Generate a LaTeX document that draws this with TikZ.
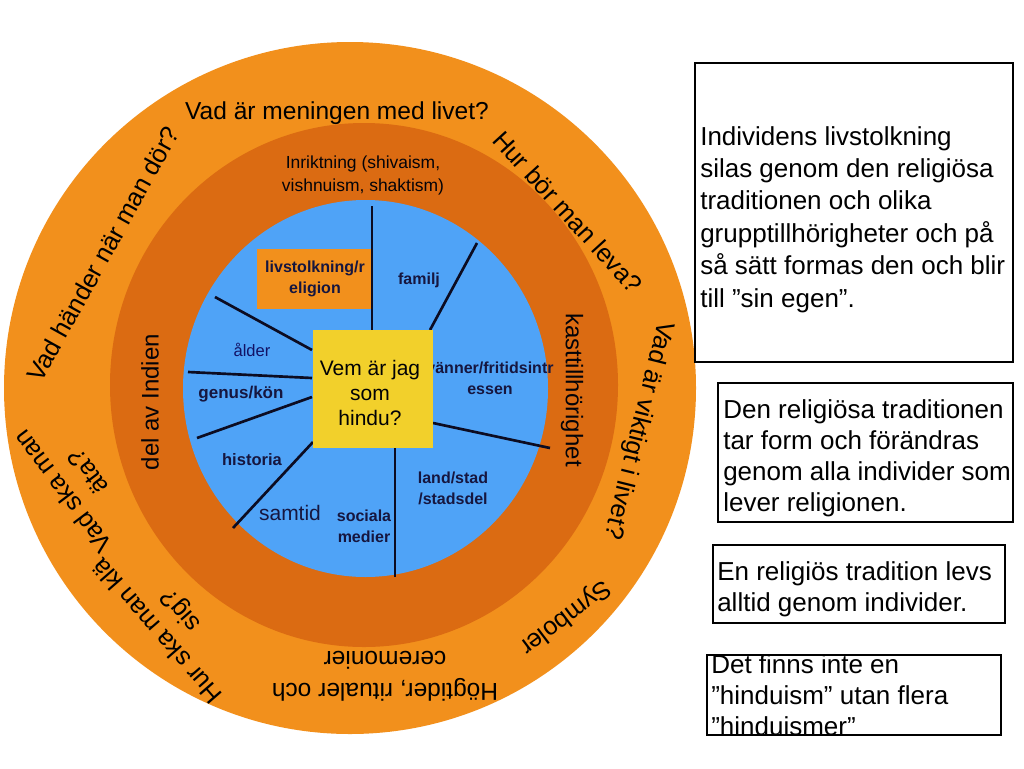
\documentclass[tikz,border=0pt]{standalone}
\usepackage{fontspec}
\setmainfont{Liberation Sans}
\definecolor{outerorange}{HTML}{F2901C}
\definecolor{darkorange}{HTML}{DB6B12}
\definecolor{ringblue}{HTML}{4FA3F7}
\definecolor{boxyellow}{HTML}{F2D02B}
\definecolor{navy}{HTML}{16163F}
\definecolor{spokecol}{HTML}{0C0C22}
\begin{document}
\begin{tikzpicture}[x=0.75pt,y=-0.75pt,
  ringtxt/.style={font=\fontsize{19pt}{22.5pt}\selectfont, text=black, inner sep=0pt, align=center},
  midtxt/.style={font=\fontsize{18pt}{20pt}\selectfont, text=black!85!navy, inner sep=0pt, align=center},
  boxtxt/.style={font=\fontsize{19.5pt}{23.25pt}\selectfont, text=black, align=left, anchor=base west, inner sep=0pt},
  lbl/.style={font=\bfseries\fontsize{12pt}{15.75pt}\selectfont, text=navy, align=center, inner sep=0pt},
  spoke/.style={line width=2pt, draw=spokecol},
  txtbox/.style={draw=black, line width=1.6pt, fill=white}]
\useasboundingbox (0,0) rectangle (1024,768);
\fill[white] (0,0) rectangle (1024,768);

% rings
\fill[outerorange] (350,388) circle [radius=346];
\fill[darkorange] (364,385) ellipse [x radius=254, y radius=262];
\fill[ringblue] (365.5,388.5) ellipse [x radius=182.5, y radius=188.5];

% outer ring texts
\node[ringtxt, font=\fontsize{18.4pt}{22.5pt}\selectfont] (q1) at (337,113) {Vad är meningen med livet?};
\node[ringtxt, rotate=-47.7] (q2) at (568,212) {Hur bör man leva?};
\node[ringtxt, rotate=-104] (q3) at (638,430) {Vad är viktigt i livet?};
\node[ringtxt, rotate=-143] (q4) at (565,617) {Symboler};
\node[ringtxt, rotate=180, font=\fontsize{18.4pt}{24pt}\selectfont] (q5) at (385,676) {Högtider, ritualer och\\ceremonier};
\node[ringtxt, rotate=131] (q6) at (170,620) {Hur ska man klä\\sig?};
\node[ringtxt, rotate=127, font=\fontsize{19pt}{24pt}\selectfont] (q7) at (75,482) {Vad ska man\\äta?};
\node[ringtxt, rotate=61] (q8) at (103,254) {Vad händer när man dör?};

% middle ring texts
\node[ringtxt, font=\fontsize{13.1pt}{17.25pt}\selectfont, text=black!85!navy] (inr) at (363,175) {Inriktning (shivaism,\\vishnuism, shaktism)};
\node[midtxt, rotate=90] (indien) at (150,402) {del av Indien};
\node[midtxt, rotate=-90] (kast) at (572,390) {kasttillhörighet};

% spokes
\coordinate (s1a) at (372,330); \coordinate (s1b) at (372,206);
\coordinate (s2a) at (430,330); \coordinate (s2b) at (477,243);
\coordinate (s3a) at (433,423); \coordinate (s3b) at (550,448);
\coordinate (s4a) at (395,448); \coordinate (s4b) at (395,577);
\coordinate (s5a) at (313,442); \coordinate (s5b) at (233,528);
\coordinate (s6a) at (312,397); \coordinate (s6b) at (197,438);
\coordinate (s7a) at (312,378); \coordinate (s7b) at (188,372);
\coordinate (s8a) at (312,350); \coordinate (s8b) at (215,297);
\foreach \i in {2,...,8} {\draw[spoke] (s\i a) -- (s\i b);}

% labels in blue circle
\node[lbl] (vanner) at (490,378.5) {vänner/fritidsintr\\essen};
\node[lbl] (familj) at (419,280) {familj};
\node[lbl] (land) at (453,488) {land/stad\\/stadsdel};
\node[lbl] (soc) at (364,526.5) {sociala\\medier};
\node[lbl, font=\fontsize{15.75pt}{18pt}\selectfont] (samtid) at (290,513) {samtid};
\node[lbl, font=\bfseries\fontsize{12.4pt}{15pt}\selectfont] (hist) at (252,460) {historia};
\node[lbl, font=\bfseries\fontsize{12.75pt}{15pt}\selectfont] (genus) at (241,394) {genus/kön};
\node[lbl, font=\fontsize{12.4pt}{15pt}\selectfont, text=navy!80!blue] (alder) at (252,350) {ålder};

% livstolkning box
\node[lbl, fill=outerorange, minimum width=87pt, minimum height=45pt] (livs) at (315,279) {livstolkning/r\\eligion};
\draw[spoke] (s1a) -- (s1b);

% centre box
\node[fill=boxyellow, minimum width=90pt, minimum height=88.5pt, inner sep=0pt] (vem) at (373,389) {};
\node[font=\fontsize{15.75pt}{18.75pt}\selectfont, align=center, inner sep=0pt, text=black!90!navy] (vemtxt) at (370,393) {Vem är jag\\som\\hindu?};

% right text boxes (anchor base = last line)
\draw[txtbox] (695,63) rectangle (1013,362);
\node[boxtxt, font=\fontsize{19.5pt}{24.3pt}\selectfont] (t1) at (700,307) {Individens livstolkning\\silas genom den religiösa\\traditionen och olika\\grupptillhörigheter och på\\så sätt formas den och blir\\till ”sin egen”.};
\draw[txtbox] (718,383) rectangle (1013,522);
\node[boxtxt] (t2) at (723,511) {Den religiösa traditionen\\tar form och förändras\\genom alla individer som\\lever religionen.};
\draw[txtbox] (713,545) rectangle (1005,623);
\node[boxtxt] (t3) at (717,611) {En religiös tradition levs\\alltid genom individer.};
\draw[txtbox] (707,655) rectangle (1001,735);
\node[boxtxt] (t4) at (711,735) {Det finns inte en\\”hinduism” utan flera\\”hinduismer”};
\end{tikzpicture}
\end{document}
